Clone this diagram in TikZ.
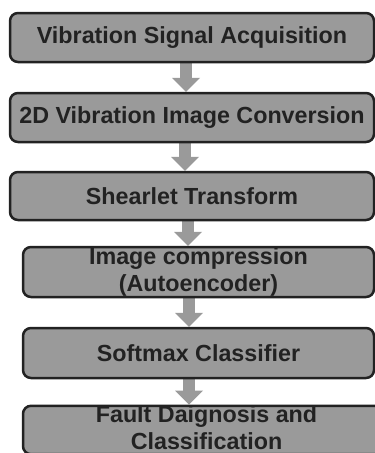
\documentclass[tikz,border=0pt]{standalone}
\usepackage{fontspec}
\setmainfont{Liberation Sans}
\usetikzlibrary{arrows.meta,backgrounds}
\definecolor{boxgray}{HTML}{9A9A9A}
\definecolor{edge}{HTML}{222222}
\definecolor{ink}{HTML}{222222}
\begin{document}
\begin{tikzpicture}[x=1pt,y=-1pt,
  stage/.style={draw=edge, line width=2.5pt, fill=boxgray, rounded corners=8pt,
    inner sep=0pt, align=center, text=ink,
    font=\fontsize{23.3}{26.5}\selectfont\bfseries},
  flow/.style={draw=boxgray, line width=12pt,
    -{Triangle[width=28pt,length=14pt,line width=0pt]}}]
  \useasboundingbox (0,0) rectangle (375,453);
  \clip (0,0) rectangle (375,453);

  % process stages, top to bottom
  \node[stage, minimum width=364pt, minimum height=49pt] (b1) at (192,37.5)
    {Vibration Signal Acquisition};
  \node[stage, minimum width=364pt, minimum height=49pt] (b2) at (192,117.5)
    {2D Vibration Image Conversion};
  \node[stage, minimum width=364pt, minimum height=48pt] (b3) at (192,196)
    {Shearlet Transform};
  \node[stage, minimum width=351pt, minimum height=50pt] (b4) at (198.5,272)
    {Image compression\\(Autoencoder)};
  \node[stage, minimum width=351pt, minimum height=50pt] (b5) at (198.5,353)
    {Softmax Classifier};
  \node[stage, minimum width=367pt, minimum height=44pt, text depth=5pt] (b6) at (206.5,430)
    {Fault Daignosis and\\Classification};

  % horizontal positions of the block arrows
  \coordinate (a1) at (186,0);
  \coordinate (a2) at (185,0);
  \coordinate (a3) at (188,0);
  \coordinate (a4) at (189,0);
  \coordinate (a5) at (189,0);

  \begin{scope}[on background layer]
    \draw[flow] (b1.south -| a1) -- (b2.north -| a1);
    \draw[flow] (b2.south -| a2) -- (b3.north -| a2);
    \draw[flow] (b3.south -| a3) -- (b4.north -| a3);
    \draw[flow] (b4.south -| a4) -- (b5.north -| a4);
    \draw[flow] (b5.south -| a5) -- (b6.north -| a5);
  \end{scope}
\end{tikzpicture}
\end{document}
